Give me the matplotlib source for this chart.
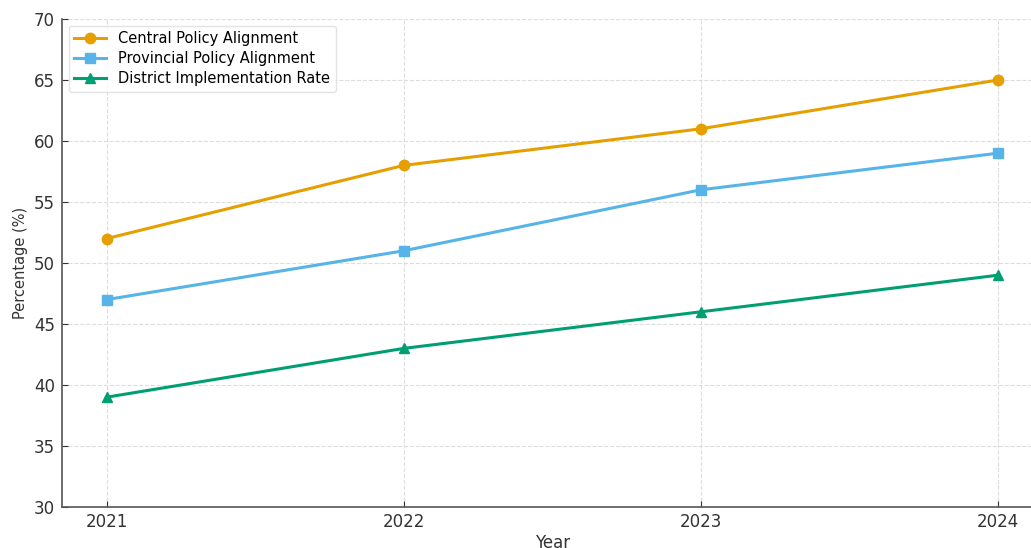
import matplotlib
matplotlib.use("Agg")
import matplotlib.pyplot as plt

years = [2021, 2022, 2023, 2024]
central = [52, 58, 61, 65]
provincial = [47, 51, 56, 59]
district = [39, 43, 46, 49]
series_names = ["Central Policy Alignment", "Provincial Policy Alignment", "District Implementation Rate"]

plt.rcParams['font.family'] = ['DejaVu Sans']
fig = plt.figure(figsize=(10.31, 5.48), dpi=100)
ax = fig.add_axes([0.0601, 0.0748, 0.951, 0.8905])

ax.plot(years, central, marker='o', color='#E69F00', lw=2.2, ms=7.5, label=series_names[0])
ax.plot(years, provincial, marker='s', color='#56B4E9', lw=2.2, ms=7.5, label=series_names[1])
ax.plot(years, district, marker='^', color='#009E73', lw=2.2, ms=7.5, label=series_names[2])

ax.set_ylim(30, 70)
ax.set_xticks(years)
ax.set_xticklabels([str(y) for y in years])
ax.tick_params(labelsize=12, colors='#333333', direction='in', length=4, pad=4.5)
ax.tick_params(axis='y', pad=5)
ax.set_xlabel("Year", fontsize=12, color='#333333', labelpad=2)
ax.set_ylabel("Percentage (%)", fontsize=10.5, color='#333333')
ax.grid(True, linestyle='--', color='#dddddd', linewidth=0.8)
for s in ['top', 'right']:
    ax.spines[s].set_visible(False)
for s in ['left', 'bottom']:
    ax.spines[s].set_color('#555555')
    ax.spines[s].set_linewidth(1.2)
ax.legend(loc='upper left', fontsize=10.5, frameon=True, edgecolor='#dddddd',
          labelspacing=0.32, handlelength=2.2, borderaxespad=0.45)

fig.savefig("out.png", dpi=100)
